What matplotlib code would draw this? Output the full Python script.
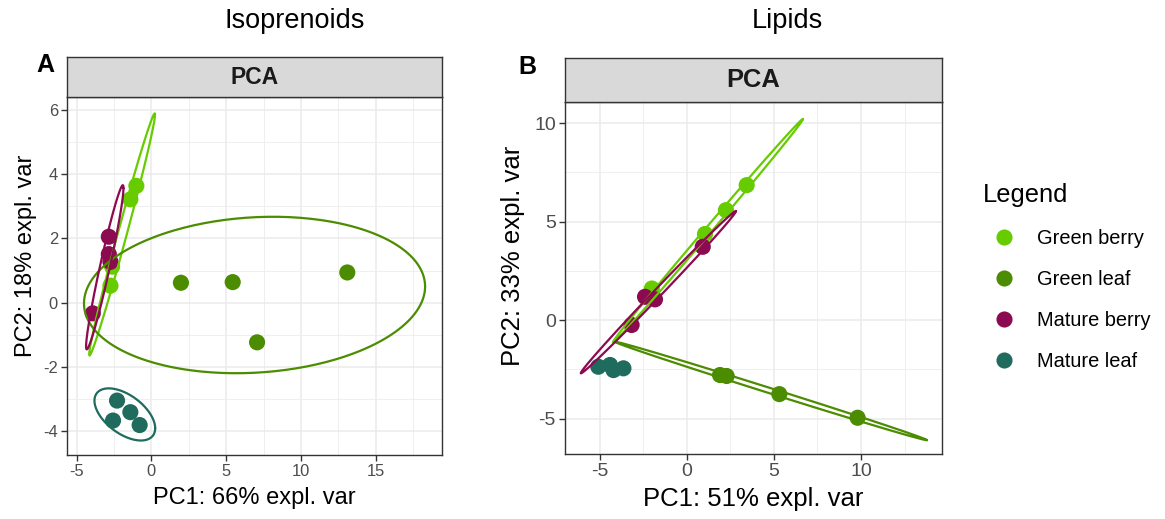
import numpy as np
import matplotlib
matplotlib.use("Agg")
import matplotlib.pyplot as plt
from matplotlib.lines import Line2D

plt.rcParams['font.family'] = ['Liberation Sans', 'DejaVu Sans']

W, H = 1165, 519
DPI = 100

groups = ["Green berry", "Green leaf", "Mature berry", "Mature leaf"]
colors = ["#66CC00", "#4C8C00", "#8B0A50", "#1F6B5E"]

# ---------------- Panel A: Isoprenoids ----------------
a_gb_x = [-1.0, -1.4, -2.62, -2.73]
a_gb_y = [3.63, 3.21, 1.12, 0.53]
a_gl_x = [1.98, 5.44, 13.1, 7.07]
a_gl_y = [0.62, 0.64, 0.94, -1.23]
a_mb_x = [-2.84, -2.84, -2.73, -3.91]
a_mb_y = [2.05, 1.51, 1.27, -0.33]
a_ml_x = [-2.29, -1.4, -2.56, -0.78]
a_ml_y = [-3.04, -3.40, -3.66, -3.80]
# ellipse params per group: centre, x half-extent, y half-extent, covariance term
a_ell_cx = [-1.95, 6.9, -3.11, -1.77]
a_ell_cy = [2.12, 0.24, 1.10, -3.47]
a_ell_sx = [2.2, 11.4, 1.25, 2.03]
a_ell_sy = [3.76, 2.43, 2.55, 0.81]
a_ell_sxy = [8.19, 3.0, 3.07, -0.87]

# ---------------- Panel B: Lipids ----------------
b_gb_x = [3.44, 2.25, 1.05, -2.0]
b_gb_y = [6.85, 5.58, 4.37, 1.6]
b_gl_x = [1.91, 2.29, 5.31, 9.8]
b_gl_y = [-2.79, -2.84, -3.76, -4.96]
b_mb_x = [0.92, -2.39, -1.82, -3.16]
b_mb_y = [3.72, 1.18, 1.05, -0.25]
b_ml_x = [-5.07, -4.4, -4.2, -3.63]
b_ml_y = [-2.37, -2.28, -2.54, -2.45]
b_ell_cx = [1.22, 4.83, -1.625]
b_ell_cy = [4.54, -3.6, 1.415]
b_ell_sx = [5.45, 8.95, 4.45]
b_ell_sy = [5.67, 2.5, 4.12]
b_ell_sxy = [30.87, -22.34, 18.29]

titles = ["Isoprenoids", "Lipids"]
xlabels = ["PC1: 66% expl. var", "PC1: 51% expl. var"]
ylabels = ["PC2: 18% expl. var", "PC2: 33% expl. var"]
a_xticks = [-5, 0, 5, 10, 15]
a_yticks = [-4, -2, 0, 2, 4, 6]
b_xticks = [-5, 0, 5, 10]
b_yticks = [-5, 0, 5, 10]

fig = plt.figure(figsize=(W / DPI, H / DPI), dpi=DPI)


def fax(l, t, r, b):
    return [l / W, 1 - b / H, (r - l) / W, (b - t) / H]


def ellipse(ax, cx, cy, sx, sy, sxy, color):
    m = np.array([[sx ** 2, sxy], [sxy, sy ** 2]])
    L = np.linalg.cholesky(m)
    t = np.linspace(0, 2 * np.pi, 300)
    pts = L @ np.vstack([np.cos(t), np.sin(t)])
    ax.plot(cx + pts[0], cy + pts[1], color=color, lw=1.6, zorder=4,
            solid_capstyle='round')


def style(ax, xt, yt, xlim, ylim, tsize):
    ax.set_xticks(xt)
    ax.set_yticks(yt)
    ax.set_xticklabels([str(v) for v in xt])
    ax.set_yticklabels([str(v) for v in yt])
    xm = [(xt[i] + xt[i + 1]) / 2 for i in range(len(xt) - 1)]
    xm = [xt[0] - (xt[1] - xt[0]) / 2] + xm + [xt[-1] + (xt[1] - xt[0]) / 2]
    ym = [(yt[i] + yt[i + 1]) / 2 for i in range(len(yt) - 1)]
    ym = [yt[0] - (yt[1] - yt[0]) / 2] + ym + [yt[-1] + (yt[1] - yt[0]) / 2]
    ax.set_xticks(xm, minor=True)
    ax.set_yticks(ym, minor=True)
    ax.set_xlim(*xlim)
    ax.set_ylim(*ylim)
    ax.grid(True, which='major', color='#EBEBEB', lw=1.1, zorder=0)
    ax.grid(True, which='minor', color='#EDEDED', lw=0.6, zorder=0)
    ax.set_axisbelow(True)
    ax.tick_params(which='minor', length=0)
    ax.tick_params(which='major', length=4, width=1.0, color='#333333',
                   labelcolor='#4D4D4D', labelsize=tsize, pad=2.5)
    for s in ax.spines.values():
        s.set_color('#333333')
        s.set_linewidth(1.0)


def strip(rect, size):
    s = fig.add_axes(rect)
    s.set_facecolor('#D9D9D9')
    s.set_xticks([])
    s.set_yticks([])
    for sp in s.spines.values():
        sp.set_color('#333333')
        sp.set_linewidth(1.0)
    s.text(0.5, 0.5, "PCA", ha='center', va='center', fontsize=size,
           fontweight='bold', color='#1A1A1A', transform=s.transAxes)


MS = 135

# Panel A
axA = fig.add_axes(fax(67, 97, 442, 455))
style(axA, a_xticks, a_yticks, (-5.635, 19.43), (-4.73, 6.39), 11.9)
for xs, ys, c in zip([a_gb_x, a_gl_x, a_mb_x, a_ml_x],
                     [a_gb_y, a_gl_y, a_mb_y, a_ml_y], colors):
    axA.scatter(xs, ys, s=MS, color=c, edgecolors='none', zorder=3)
for i in range(4):
    ellipse(axA, a_ell_cx[i], a_ell_cy[i], a_ell_sx[i], a_ell_sy[i],
            a_ell_sxy[i], colors[i])
axA.set_xlabel(xlabels[0], fontsize=17, labelpad=6)
axA.set_ylabel(ylabels[0], fontsize=17)
axA.yaxis.set_label_coords((37 - 67) / 375, (455 - 256) / 358)
strip(fax(67, 57, 442, 97), 16.5)

# Panel B
axB = fig.add_axes(fax(565, 102, 942, 454))
style(axB, b_xticks, b_yticks, (-6.98, 14.64), (-6.80, 11.07), 14)
for xs, ys, c in zip([b_gb_x, b_gl_x, b_mb_x, b_ml_x],
                     [b_gb_y, b_gl_y, b_mb_y, b_ml_y], colors):
    axB.scatter(xs, ys, s=MS, color=c, edgecolors='none', zorder=3)
for i, gi in enumerate([0, 1, 2]):
    ellipse(axB, b_ell_cx[i], b_ell_cy[i], b_ell_sx[i], b_ell_sy[i],
            b_ell_sxy[i], colors[gi])
axB.set_xlabel(xlabels[1], fontsize=18.5, labelpad=5)
axB.set_ylabel(ylabels[1], fontsize=18.5)
axB.yaxis.set_label_coords((525 - 565) / 377, (454 - 256) / 352)
strip(fax(565, 58, 942, 102), 18.4)

# titles and panel letters
fig.text(295 / W, 1 - 21 / H, titles[0], ha='center', va='center', fontsize=19.5)
fig.text(787 / W, 1 - 21 / H, titles[1], ha='center', va='center', fontsize=19.5)
fig.text(45 / W, 1 - 65 / H, "A", ha='center', va='center', fontsize=18,
         fontweight='bold')
fig.text(527 / W, 1 - 67 / H, "B", ha='center', va='center', fontsize=18,
         fontweight='bold')

# legend
handles = [Line2D([], [], marker='o', ls='none', markersize=11.6,
                  markerfacecolor=c, markeredgecolor='none') for c in colors]
leg = fig.legend(handles, groups, loc='upper left',
                 bbox_to_anchor=(975 / W, 1 - 175 / H), frameon=False,
                 title="Legend", fontsize=14.4, title_fontsize=18.4,
                 labelspacing=1.1, handletextpad=0.6, handlelength=2.1,
                 alignment='left', borderaxespad=0)

fig.savefig("out.png", dpi=DPI)
